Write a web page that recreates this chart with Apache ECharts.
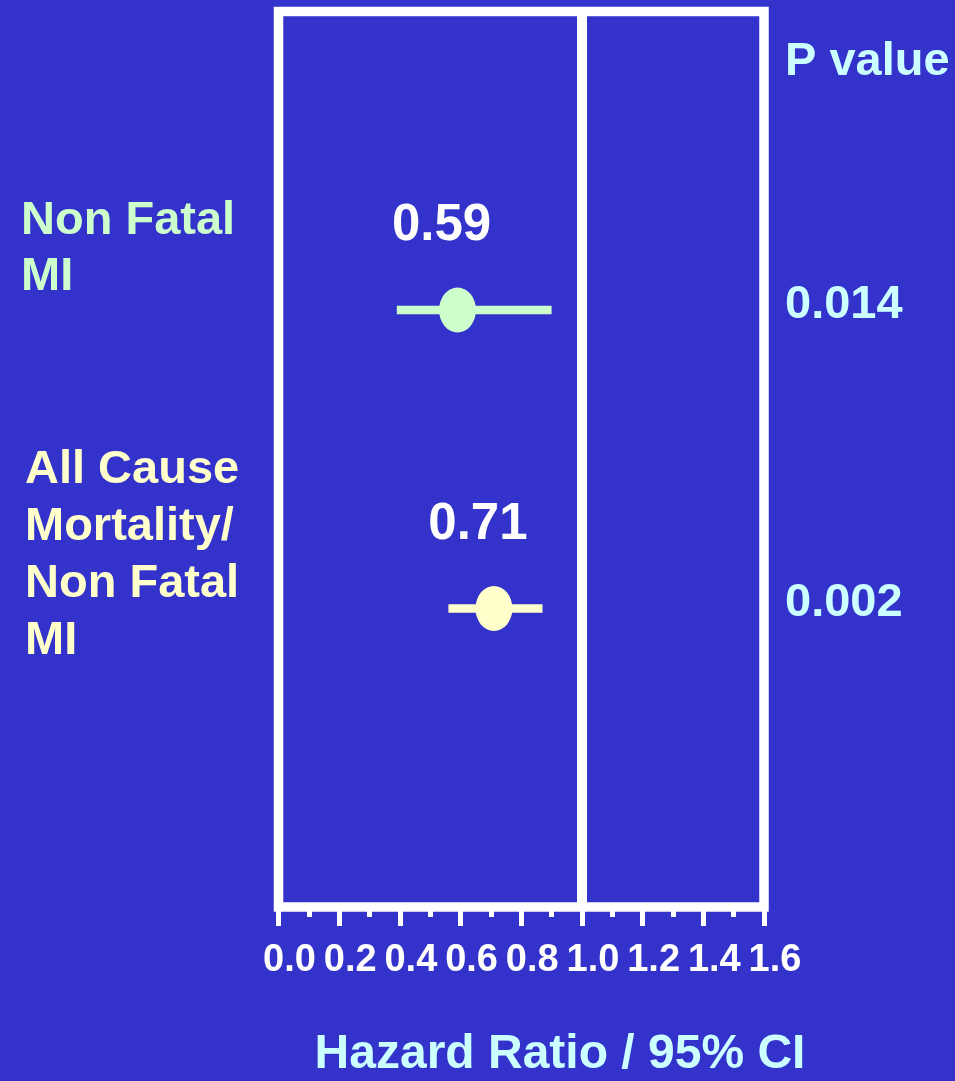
<!DOCTYPE html>
<html>
<head>
<meta charset="utf-8">
<script src="https://cdn.jsdelivr.net/npm/echarts@6/dist/echarts.min.js"></script>
<style>
  html, body { margin: 0; padding: 0; background: #3333CC; }
  #chart { width: 955px; height: 1081px; }
</style>
</head>
<body>
<div id="chart"></div>
<script>
// ---- data ----
const categories = ['Non Fatal\nMI', 'All Cause\nMortality/\nNon Fatal\nMI'];
const rows = [1, 2];
const hazardRatio = [0.59, 0.71];
const ciLow = [0.39, 0.56];
const ciHigh = [0.90, 0.87];
const pValues = ['0.014', '0.002'];
const xTicks = [0, 0.2, 0.4, 0.6, 0.8, 1.0, 1.2, 1.4, 1.6];

// ---- styles ----
const FONT = '"Liberation Sans", Arial, sans-serif';
const rowColors = ['#CCFFCC', '#FFFFCC'];
const pColor = '#CCFFFF';

const chart = echarts.init(document.getElementById('chart'), null, { renderer: 'canvas' });

const option = {
  backgroundColor: '#3333CC',
  animation: false,
  grid: {
    left: 278.5, top: 11.5, width: 485.5, height: 895.5,
    show: true, borderColor: '#FFFFFF', borderWidth: 9.5, backgroundColor: 'transparent'
  },
  xAxis: {
    type: 'value', min: 0, max: 1.6, interval: 0.2, position: 'bottom',
    axisLine: { show: false, onZero: false },
    splitLine: { show: false },
    axisTick: { show: true, length: 19, lineStyle: { color: '#FFFFFF', width: 5 } },
    minorTick: { show: true, splitNumber: 2, length: 10, lineStyle: { color: '#FFFFFF', width: 5 } },
    axisLabel: {
      color: '#FFFFFF', fontFamily: FONT, fontWeight: 'bold', fontSize: 38,
      margin: 35, padding: [0, 0, 0, 22],
      formatter: v => xTicks.find(t => Math.abs(t - v) < 1e-6).toFixed(1)
    }
  },
  yAxis: {
    type: 'value', min: 0, max: 3, inverse: true, show: false
  },
  series: [
    {
      type: 'custom',
      data: rows.map((r, i) => [ciLow[i], ciHigh[i], r]),
      renderItem: function (params, api) {
        const p1 = api.coord([api.value(0), api.value(2)]);
        const p2 = api.coord([api.value(1), api.value(2)]);
        return {
          type: 'line',
          shape: { x1: p1[0], y1: p1[1], x2: p2[0], y2: p2[1] },
          style: { stroke: rowColors[params.dataIndex], lineWidth: 8.5 }
        };
      },
      z: 3,
      markLine: {
        silent: true, symbol: ['none', 'none'],
        label: { show: false },
        lineStyle: { color: '#FFFFFF', width: 10, type: 'solid' },
        data: [{ xAxis: 1 }]
      }
    },
    {
      type: 'scatter',
      data: rows.map((r, i) => [hazardRatio[i], r]),
      symbol: 'circle',
      symbolSize: [37, 45],
      itemStyle: { color: p => rowColors[p.dataIndex], opacity: 1 },
      z: 4,
      label: {
        show: true, position: 'inside', offset: [-16, -84],
        color: '#FFFFFF', fontFamily: FONT, fontWeight: 'bold', fontSize: 51,
        formatter: p => p.value[0].toFixed(2)
      }
    }
  ]
};
chart.setOption(option);

// ---- row labels and p values, positioned from the y scale ----
const rowPx = rows.map(r => chart.convertToPixel({ yAxisIndex: 0 }, r));
const graphics = [];
const catLeft = [21, 25];
const catTop = [193, 442];
const catLineH = [56, 57];
categories.forEach((c, i) => {
  graphics.push({
    type: 'text', left: catLeft[i], top: catTop[i],
    style: {
      text: c, fill: rowColors[i], font: 'bold 47px ' + FONT,
      lineHeight: catLineH[i]
    }
  });
});
graphics.push({
  type: 'text', x: 785, y: 62,
  style: { text: 'P value', fill: pColor, font: 'bold 47px ' + FONT, textVerticalAlign: 'middle' }
});
pValues.forEach((p, i) => {
  graphics.push({
    type: 'text', x: 785, y: rowPx[i] - 5,
    style: { text: p, fill: pColor, font: 'bold 47px ' + FONT, textVerticalAlign: 'middle' }
  });
});
graphics.push({
  type: 'text', x: 560, y: 1055,
  style: { text: 'Hazard Ratio / 95% CI', fill: pColor, font: 'bold 48px ' + FONT,
           textAlign: 'center', textVerticalAlign: 'middle' }
});
chart.setOption({ graphic: graphics });
</script>
</body>
</html>
